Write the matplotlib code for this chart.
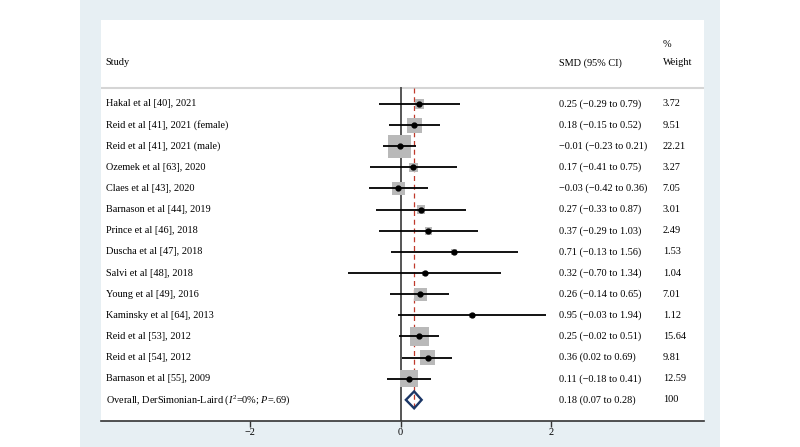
import matplotlib
matplotlib.use("Agg")
import matplotlib.pyplot as plt
from matplotlib.patches import Rectangle

# Datos del forest plot
estudios = [
    "Hakal et al [40], 2021",
    "Reid et al [41], 2021 (female)",
    "Reid et al [41], 2021 (male)",
    "Ozemek et al [63], 2020",
    "Claes et al [43], 2020",
    "Barnason et al [44], 2019",
    "Prince et al [46], 2018",
    "Duscha et al [47], 2018",
    "Salvi et al [48], 2018",
    "Young et al [49], 2016",
    "Kaminsky et al [64], 2013",
    "Reid et al [53], 2012",
    "Reid et al [54], 2012",
    "Barnason et al [55], 2009",
]
smd = [0.25, 0.18, -0.01, 0.17, -0.03, 0.27, 0.37, 0.71, 0.32, 0.26, 0.95, 0.25, 0.36, 0.11]
ci_low = [-0.29, -0.15, -0.23, -0.41, -0.42, -0.33, -0.29, -0.13, -0.70, -0.14, -0.03, -0.02, 0.02, -0.18]
ci_high = [0.79, 0.52, 0.21, 0.75, 0.36, 0.87, 1.03, 1.56, 1.34, 0.65, 1.94, 0.51, 0.69, 0.41]
pesos = [3.72, 9.51, 22.21, 3.27, 7.05, 3.01, 2.49, 1.53, 1.04, 7.01, 1.12, 15.64, 9.81, 12.59]

overall_label = "Overall, DerSimonian-Laird ($\\mathit{I}^{2}$=0%; $\\mathit{P}$=.69)"
overall_smd, overall_low, overall_high = 0.18, 0.07, 0.28
overall_peso = "100"
ticks = [-2, 0, 2]


def fmt(v):
    return f"{v:.2f}".replace("-", "\u2212")


plt.rcParams["font.family"] = ["Liberation Serif", "DejaVu Serif"]
plt.rcParams["mathtext.fontset"] = "custom"
plt.rcParams["mathtext.rm"] = "Liberation Serif"
plt.rcParams["mathtext.it"] = "Liberation Serif:italic"

fig = plt.figure(figsize=(8, 4.47), dpi=100)
fig.patch.set_facecolor("white")
# panel de fondo
fig.add_artist(Rectangle((80 / 800, 0), 640 / 800, 1, transform=fig.transFigure,
                         facecolor="#e7eff3", edgecolor="none", zorder=0))

ax = fig.add_axes([101 / 800, 26 / 447, 603 / 800, 401 / 447])
ax.set_facecolor("white")
ax.set_xlim(-3.99, 4.04)
ax.set_ylim(15.0, -3.97)

fs = 7.4
n = len(estudios)
filas = list(range(n))

# lineas de referencia
ax.axhline(-0.76, color="#d5d5d5", lw=1.5, zorder=1)
ax.plot([0, 0], [-0.76, 15.0], color="#555555", lw=1.4, zorder=2)
ax.plot([overall_smd, overall_smd], [-0.76, 14.45], color="#c0392b", lw=0.9,
        ls=(0, (4, 3)), zorder=2)

# cuadrados de peso, IC y puntos
ax.scatter(smd, filas, s=[12.3 * w for w in pesos], marker="s", color="#b9b9b9",
           edgecolors="none", zorder=3)
ax.hlines(filas, ci_low, ci_high, color="black", lw=1.3, zorder=4)
ax.plot(smd, filas, "o", color="black", ms=3.5, zorder=5)

# diamante global
yo = n
h = 0.40
ax.fill([overall_low, overall_smd, overall_high, overall_smd, overall_low],
        [yo, yo - h, yo, yo + h, yo], facecolor="none", edgecolor="#1c3767",
        lw=1.7, zorder=5)

# textos
x_study, x_smd, x_w = -3.93, 2.11, 3.49
ax.text(x_study, -1.94, "Study", fontsize=fs, va="center")
ax.text(x_smd, -1.94, "SMD (95% CI)", fontsize=fs, va="center")
ax.text(x_w, -2.79, "%", fontsize=fs, va="center")
ax.text(x_w, -1.94, "Weight", fontsize=fs, va="center")

for i in filas:
    ax.text(x_study, i, estudios[i], fontsize=fs, va="center")
    ax.text(x_smd, i, f"{fmt(smd[i])} ({fmt(ci_low[i])} to {fmt(ci_high[i])})",
            fontsize=fs, va="center")
    ax.text(x_w, i, f"{pesos[i]:.2f}", fontsize=fs, va="center")

ax.text(x_study, yo, overall_label, fontsize=fs, va="center")
ax.text(x_smd, yo, f"{fmt(overall_smd)} ({fmt(overall_low)} to {fmt(overall_high)})",
        fontsize=fs, va="center")
ax.text(x_w, yo, overall_peso, fontsize=fs, va="center")

# ejes
for lado in ["top", "right", "left"]:
    ax.spines[lado].set_visible(False)
ax.spines["bottom"].set_color("#333333")
ax.spines["bottom"].set_linewidth(1.2)
ax.set_yticks([])
ax.set_xticks(ticks)
ax.tick_params(axis="x", length=4, width=1, color="#333333", labelsize=fs, pad=1)

fig.savefig("out.png", dpi=100)
